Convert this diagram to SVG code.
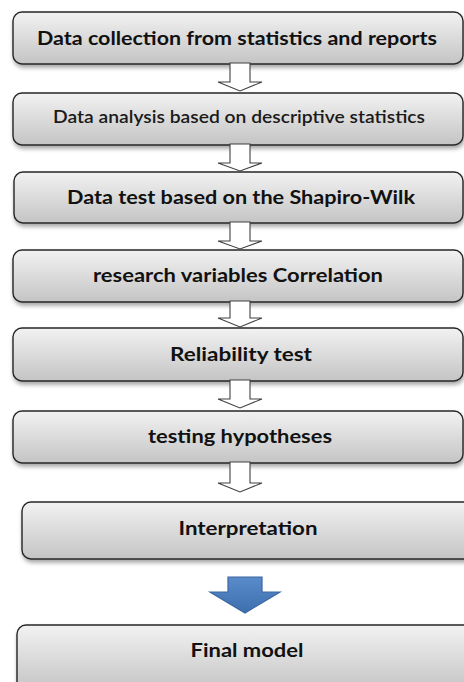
<svg xmlns="http://www.w3.org/2000/svg" width="464" height="682" viewBox="0 0 464 682">
  <defs>
    <linearGradient id="boxFill" x1="0" y1="0" x2="0" y2="1">
      <stop offset="0" stop-color="#f2f2f2"/>
      <stop offset="1" stop-color="#c4c4c4"/>
    </linearGradient>
    <linearGradient id="blueFill" x1="0" y1="0" x2="0" y2="1">
      <stop offset="0" stop-color="#5a8ccc"/>
      <stop offset="1" stop-color="#3d6eae"/>
    </linearGradient>
    <filter id="shadow" x="-5%" y="-20%" width="115%" height="160%">
      <feDropShadow dx="1" dy="3" stdDeviation="2" flood-color="#000" flood-opacity="0.35"/>
    </filter>
  </defs>
  <style>
    .box { fill: url(#boxFill); stroke: #262626; stroke-width: 1.4; filter: url(#shadow); }
    .label { font-family: Lato, "Liberation Sans", sans-serif; font-size: 18px; fill: #111; text-anchor: middle; }
    .bold { font-weight: 700; }
    .medium { font-weight: 600; fill: #1a1a1a; }
    .hollow { fill: #ffffff; stroke: #404040; stroke-width: 1.1; stroke-linejoin: miter; }
    .blue { fill: url(#blueFill); stroke: #3a67a0; stroke-width: 1.2; }
  </style>

  <rect width="464" height="682" fill="#ffffff"/>

  <g id="step-collection">
    <rect class="box" x="13" y="12" width="450" height="52" rx="9"/>
    <text class="label bold" x="237" y="45" textLength="400" lengthAdjust="spacingAndGlyphs">Data collection from statistics and reports</text>
  </g>
  <g id="step-descriptive">
    <rect class="box" x="13" y="93" width="450" height="52" rx="9"/>
    <text class="label medium" x="239" y="123" textLength="372" lengthAdjust="spacingAndGlyphs">Data analysis based on descriptive statistics</text>
  </g>
  <g id="step-shapiro">
    <rect class="box" x="14" y="172" width="449" height="51" rx="9"/>
    <text class="label bold" x="241" y="204" textLength="348" lengthAdjust="spacingAndGlyphs">Data test based on the Shapiro-Wilk</text>
  </g>
  <g id="step-correlation">
    <rect class="box" x="13" y="250" width="450" height="52" rx="9"/>
    <text class="label bold" x="238" y="282" textLength="290" lengthAdjust="spacingAndGlyphs">research variables Correlation</text>
  </g>
  <g id="step-reliability">
    <rect class="box" x="13" y="328" width="450" height="53" rx="9"/>
    <text class="label bold" x="241" y="361" textLength="142" lengthAdjust="spacingAndGlyphs">Reliability test</text>
  </g>
  <g id="step-hypotheses">
    <rect class="box" x="13" y="411" width="450" height="52" rx="9"/>
    <text class="label bold" x="240" y="443" textLength="184" lengthAdjust="spacingAndGlyphs">testing hypotheses</text>
  </g>
  <g id="step-interpretation">
    <rect class="box" x="22" y="502" width="454" height="57" rx="9"/>
    <text class="label bold" x="248" y="535" textLength="139" lengthAdjust="spacingAndGlyphs">Interpretation</text>
  </g>
  <g id="step-final">
    <rect class="box" x="17" y="625" width="460" height="66" rx="9"/>
    <text class="label bold" x="247" y="657" textLength="113" lengthAdjust="spacingAndGlyphs">Final model</text>
  </g>

  <g id="connectors">
    <path class="hollow" d="M230 63 H250 V82 H262 L240 91 L218 82 H230 Z"/>
    <path class="hollow" d="M230 144 H250 V163 H262 L240 171 L218 163 H230 Z"/>
    <path class="hollow" d="M230 222 H250 V241 H262 L240 249 L218 241 H230 Z"/>
    <path class="hollow" d="M230 301 H250 V318 H262 L240 327 L218 318 H230 Z"/>
    <path class="hollow" d="M230 380 H250 V399 H262 L240 408 L218 399 H230 Z"/>
    <path class="hollow" d="M230 462 H250 V483 H262 L240 492 L218 483 H230 Z"/>
    <path class="blue" d="M228 577 H262 V592 H280 L245 613 L210 592 H228 Z"/>
  </g>
</svg>
